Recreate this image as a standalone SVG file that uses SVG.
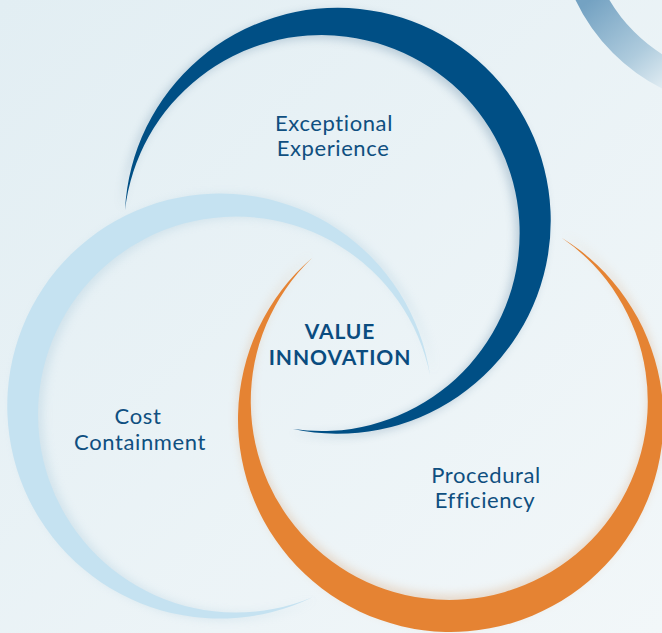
<svg xmlns="http://www.w3.org/2000/svg" width="662" height="633" viewBox="0 0 662 633">
  <defs>
    <linearGradient id="bg" x1="0" y1="0" x2="1" y2="1">
      <stop offset="0" stop-color="#e2eef3"/>
      <stop offset="1" stop-color="#f2f7f9"/>
    </linearGradient>
    <linearGradient id="corner" gradientUnits="userSpaceOnUse" x1="590" y1="0" x2="665" y2="92">
      <stop offset="0" stop-color="#74a2c2"/>
      <stop offset="0.6" stop-color="#aecbdd"/>
      <stop offset="1" stop-color="#e6f0f5"/>
    </linearGradient>
    <filter id="soft" x="-20%" y="-20%" width="140%" height="140%">
      <feGaussianBlur stdDeviation="5"/>
    </filter>
    <style>
      .label { font-family: Lato, "Open Sans", "Liberation Sans", sans-serif; font-size: 22px; letter-spacing: 0.6px; fill: #0f4f80; text-anchor: middle; }
      .core { font-family: Lato, "Liberation Sans", sans-serif; font-size: 21px; letter-spacing: 0.9px; font-weight: bold; fill: #0a4c7f; text-anchor: middle; }
    </style>
  </defs>

  <rect width="662" height="633" fill="url(#bg)"/>
  <circle cx="748" cy="-82" r="176" fill="none" stroke="url(#corner)" stroke-width="30"/>

  <g id="cost-containment">
    <path d="M 430 375 A 212.5 212.5 0 1 0 313 597 A 198 198 0 1 1 430 375 Z" fill="#8fb8cf" opacity="0.25" filter="url(#soft)" transform="translate(5,1)"/>
    <path d="M 430 375 A 212.5 212.5 0 1 0 313 597 A 198 198 0 1 1 430 375 Z" fill="#c5e2f1"/>
    <text class="label" x="138" y="424">Cost</text>
    <text class="label" x="140" y="450">Containment</text>
  </g>

  <g id="exceptional-experience">
    <path d="M 125 210 A 213 213 0 1 1 293 429 A 198 198 0 1 0 125 210 Z" fill="#4c7596" opacity="0.3" filter="url(#soft)" transform="translate(-4,3)"/>
    <path d="M 125 210 A 213 213 0 1 1 293 429 A 198 198 0 1 0 125 210 Z" fill="#004f85"/>
    <text class="label" x="334" y="131">Exceptional</text>
    <text class="label" x="333" y="156">Experience</text>
  </g>

  <g id="procedural-efficiency">
    <path d="M 312 258 A 212.7 212.7 0 1 0 562 238 A 198.5 198.5 0 1 1 312 258 Z" fill="#d9a578" opacity="0.35" filter="url(#soft)" transform="translate(0,-5)"/>
    <path d="M 312 258 A 212.7 212.7 0 1 0 562 238 A 198.5 198.5 0 1 1 312 258 Z" fill="#e58333"/>
    <text class="label" x="486" y="483">Procedural</text>
    <text class="label" x="485" y="508">Efficiency</text>
  </g>

  <g id="value-innovation">
    <text class="core" x="340" y="339">VALUE</text>
    <text class="core" x="340" y="365">INNOVATION</text>
  </g>
</svg>
